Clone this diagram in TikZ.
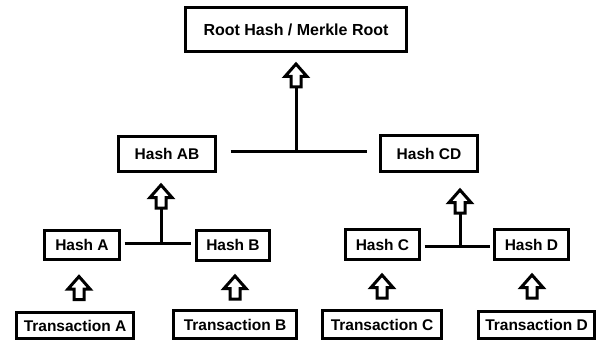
\documentclass[tikz,border=0pt]{standalone}
\usepackage{fontspec}
\setmainfont{Liberation Sans}
\begin{document}
\begin{tikzpicture}[x=1pt,y=-1pt,
  box/.style={draw=black, line width=3pt, fill=white, inner sep=0pt,
    font=\bfseries\fontsize{15.5}{18}\selectfont},
  conn/.style={line width=3pt},
  harrow/.pic={
    \draw[line width=3pt, fill=white, line join=miter]
      (0,0) -- (11,12.5) -- (5,12.5) -- (5,23) -- (-5,23) -- (-5,12.5) -- (-11,12.5) -- cycle;
    \coordinate (-base) at (0,23);
  }]
\useasboundingbox (0,0) rectangle (599,342);
\fill[white] (0,0) rectangle (599,342);

% boxes
\node[box, minimum width=221pt, minimum height=44pt, font=\bfseries\fontsize{16}{18}\selectfont] (root) at (296,29.5) {Root Hash / Merkle Root};
\node[box, minimum width=97pt, minimum height=35pt] (AB) at (167,154) {Hash AB};
\node[box, minimum width=97pt, minimum height=36pt] (CD) at (429,153.5) {Hash CD};
\node[box, minimum width=75pt, minimum height=29pt] (A) at (82,245) {Hash A};
\node[box, minimum width=73pt, minimum height=30pt] (B) at (233,245) {Hash B};
\node[box, minimum width=74pt, minimum height=30pt] (C) at (382.5,244.5) {Hash C};
\node[box, minimum width=74pt, minimum height=30pt] (D) at (531.5,244.5) {Hash D};
\node[box, minimum width=117pt, minimum height=26pt] (TA) at (75,325.5) {Transaction A};
\node[box, minimum width=123pt, minimum height=28pt] (TB) at (235,324.5) {Transaction B};
\node[box, minimum width=119pt, minimum height=28pt] (TC) at (382,324.5) {Transaction C};
\node[box, minimum width=116pt, minimum height=27pt] (TD) at (536.5,325) {Transaction D};

% junctions
\coordinate (j1) at (296,151);
\coordinate (j2) at (161,243.5);
\coordinate (j3) at (460,246);

% horizontal connectors
\draw[conn, shorten <=13.5pt, shorten >=12.5pt] (AB.east |- j1) -- (CD.west |- j1);
\draw[conn, shorten <=3.5pt, shorten >=4.5pt] (A.east |- j2) -- (B.west |- j2);
\draw[conn, shorten <=3.5pt, shorten >=3.5pt] (C.east |- j3) -- (D.west |- j3);

% hollow arrows
\pic (aR) at (296,64) {harrow};
\pic (aAB) at (161,185) {harrow};
\pic (aCD) at (460,190) {harrow};
\pic (aA) at (79,276.5) {harrow};
\pic (aB) at (235,276) {harrow};
\pic (aC) at (382,275) {harrow};
\pic (aD) at (532,275) {harrow};

% vertical connectors
\draw[conn] (j1) -- (aR-base);
\draw[conn] (j2) -- (aAB-base);
\draw[conn] (j3) -- (aCD-base);
\end{tikzpicture}
\end{document}
